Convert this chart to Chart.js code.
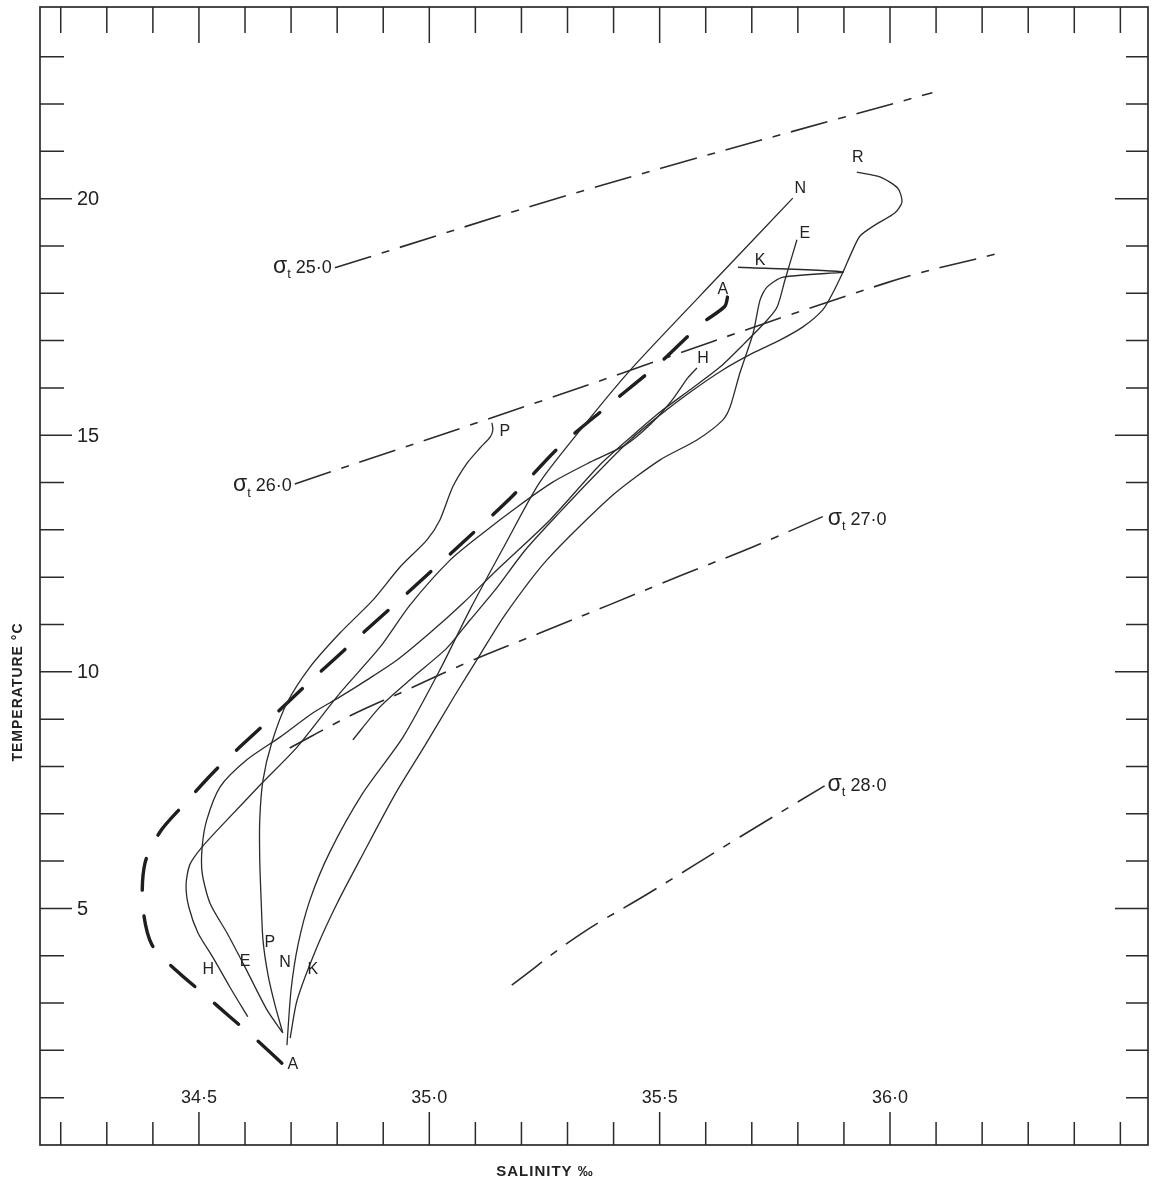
<!DOCTYPE html>
<html>
<head>
<meta charset="utf-8">
<title>Temperature - salinity diagram</title>
<script src="https://cdn.jsdelivr.net/npm/chart.js@4.4.1/dist/chart.umd.min.js"></script>
<style>
  html, body { margin: 0; padding: 0; background: #fff; }
  #wrap { width: 1152px; height: 1183px; position: relative; }
</style>
</head>
<body>
<div id="wrap"><canvas id="tsChart"></canvas></div>
<script>
// ================== DATA (salinity ‰, temperature °C) ==================
const stationA = [
  [34.680, 1.73], [34.621, 2.26], [34.567, 2.71], [34.513, 3.17], [34.454, 3.66],
  [34.398, 4.23], [34.378, 5.07], [34.383, 5.96], [34.415, 6.61], [34.465, 7.17],
  [34.541, 7.97], [34.639, 8.86], [34.736, 9.75], [34.847, 10.74], [34.953, 11.67],
  [35.062, 12.64], [35.179, 13.70], [35.283, 14.76], [35.385, 15.60], [35.496, 16.49],
  [35.591, 17.36], [35.641, 17.72], [35.648, 17.95]
];
const stationN = [
  [34.691, 2.11], [34.700, 3.28], [34.715, 4.23], [34.741, 5.18], [34.784, 6.19],
  [34.856, 7.44], [34.943, 8.62], [35.023, 10.04], [35.088, 11.31], [35.164, 12.68],
  [35.240, 14.01], [35.342, 15.28], [35.442, 16.44], [35.631, 18.39], [35.789, 20.01]
];
const stationK = [
  [34.698, 2.26], [34.713, 3.06], [34.756, 4.18], [34.800, 5.11], [34.849, 6.02],
  [34.925, 7.40], [34.991, 8.45], [35.056, 9.51], [35.110, 10.36], [35.164, 11.20],
  [35.255, 12.36], [35.399, 13.74], [35.501, 14.48], [35.581, 14.90], [35.637, 15.32],
  [35.653, 15.60], [35.674, 16.31], [35.703, 17.16], [35.718, 17.86], [35.733, 18.13],
  [35.768, 18.34], [35.898, 18.45], [35.670, 18.55]
];
const stationR = [
  [35.928, 20.56], [35.978, 20.46], [36.017, 20.22], [36.026, 19.93], [36.011, 19.70],
  [35.967, 19.44], [35.935, 19.21], [35.917, 18.87], [35.898, 18.45], [35.876, 18.01],
  [35.854, 17.65], [35.811, 17.29], [35.761, 17.01], [35.703, 16.74], [35.637, 16.38],
  [35.566, 15.91], [35.501, 15.43], [35.436, 14.90], [35.360, 14.16], [35.284, 13.38],
  [35.208, 12.57], [35.143, 11.73], [35.088, 11.09], [35.038, 10.50], [34.965, 9.89],
  [34.893, 9.26], [34.834, 8.56]
];
const stationE = [
  [34.682, 2.37], [34.648, 2.85], [34.600, 3.76], [34.561, 4.48], [34.524, 5.11],
  [34.507, 5.75], [34.507, 6.30], [34.517, 6.87], [34.546, 7.57], [34.604, 8.14],
  [34.676, 8.62], [34.747, 9.13], [34.806, 9.47], [34.865, 9.83], [34.930, 10.25],
  [35.001, 10.82], [35.073, 11.45], [35.153, 12.21], [35.262, 13.21], [35.370, 14.37],
  [35.442, 15.00], [35.501, 15.49], [35.566, 15.96], [35.631, 16.44], [35.685, 16.95],
  [35.733, 17.43], [35.755, 17.71], [35.772, 18.28], [35.798, 19.13]
];
const stationH = [
  [34.606, 2.71], [34.567, 3.34], [34.530, 3.97], [34.498, 4.48], [34.478, 5.03],
  [34.472, 5.49], [34.480, 5.92], [34.507, 6.30], [34.561, 6.87], [34.639, 7.67],
  [34.713, 8.41], [34.806, 9.55], [34.893, 10.52], [34.958, 11.41], [35.045, 12.36],
  [35.116, 12.93], [35.190, 13.48], [35.268, 14.01], [35.349, 14.43], [35.425, 14.79],
  [35.479, 15.22], [35.527, 15.74], [35.561, 16.21], [35.581, 16.42]
];
const stationP = [
  [34.682, 2.37], [34.665, 2.96], [34.650, 3.59], [34.639, 4.33], [34.635, 5.18],
  [34.632, 6.02], [34.632, 6.87], [34.639, 7.71], [34.658, 8.50], [34.691, 9.34],
  [34.741, 10.10], [34.806, 10.82], [34.878, 11.52], [34.936, 12.21], [34.995, 12.79],
  [35.023, 13.21], [35.051, 13.91], [35.082, 14.41], [35.110, 14.73], [35.132, 14.96],
  [35.138, 15.11], [35.136, 15.26]
];

// sigma-t isopleths
const sigma25 = [[34.795, 18.54], [35.342, 20.19], [36.092, 22.24]];
const sigma26 = [[34.708, 13.97], [35.233, 15.69], [35.992, 18.22], [36.233, 18.84]];
const sigma27 = [
  [34.697, 8.39], [34.828, 9.07], [34.943, 9.58], [35.081, 10.19], [35.240, 10.82],
  [35.392, 11.42], [35.550, 12.05], [35.702, 12.64], [35.854, 13.28]
];
const sigma28 = [[35.179, 3.38], [35.326, 4.44], [35.478, 5.33], [35.674, 6.51], [35.858, 7.59]];
const sigmaValues = ["25·0", "26·0", "27·0", "28·0"];

// axes
const salinityRange = [34.155, 36.56];
const tempRange = [0, 24.05];
const salinityTicks = [34.5, 35.0, 35.5, 36.0];
const salinityTickLabels = ["34·5", "35·0", "35·5", "36·0"];
const tempTicks = [5, 10, 15, 20];
const tempTickLabels = ["5", "10", "15", "20"];

// station letters written on the diagram
const stationLetters = ["N", "E", "K", "A", "H", "P", "R", "H", "E", "P", "N", "K", "A"];
const stationLetterAt = [
  [35.805, 20.22], [35.815, 19.27], [35.718, 18.70], [35.637, 18.07], [35.594, 16.63],
  [35.164, 15.07], [35.930, 20.86], [34.520, 3.70], [34.600, 3.87], [34.654, 4.27],
  [34.687, 3.85], [34.747, 3.70], [34.704, 1.69]
];

// ================== STYLE ==================
const INK = "#2b2b2b";
const FONT = "'Liberation Sans', 'DejaVu Sans', sans-serif";

const toXY = (arr) => arr.map(([s, t]) => ({ x: s, y: t }));

function thinLine(label, pts) {
  return {
    label, data: toXY(pts), showLine: true, pointRadius: 0,
    borderColor: INK, borderWidth: 1.3, tension: 0.25
  };
}
function sigmaLine(label, pts) {
  return {
    label, data: toXY(pts), showLine: true, pointRadius: 0,
    borderColor: INK, borderWidth: 1.6, tension: 0.4,
    borderDash: [38, 11, 8, 11]
  };
}

const datasets = [
  thinLine("N", stationN),
  thinLine("K", stationK),
  thinLine("R", stationR),
  thinLine("E", stationE),
  thinLine("H", stationH),
  thinLine("P", stationP),
  {
    label: "A", data: toXY(stationA), showLine: true, pointRadius: 0,
    borderColor: "#1e1e1e", borderWidth: 3.4, tension: 0.3,
    borderDash: [32, 26], borderCapStyle: "round"
  },
  sigmaLine("σt 25", sigma25),
  sigmaLine("σt 26", sigma26),
  sigmaLine("σt 27", sigma27),
  sigmaLine("σt 28", sigma28)
];

// ================== HELPERS ==================
function sigmaLabelWidth(ctx, value) {
  ctx.font = "23px " + FONT;
  let w = ctx.measureText("σ").width;
  ctx.font = "13px " + FONT;
  w += ctx.measureText("t").width;
  ctx.font = "18px " + FONT;
  w += ctx.measureText(" " + value).width;
  return w;
}

function drawSigmaLabel(ctx, value, x, y) {
  ctx.textBaseline = "middle";
  ctx.textAlign = "left";
  ctx.font = "23px " + FONT;
  ctx.fillText("σ", x, y - 1);
  x += ctx.measureText("σ").width;
  ctx.font = "13px " + FONT;
  ctx.fillText("t", x, y + 7);
  x += ctx.measureText("t").width;
  ctx.font = "18px " + FONT;
  ctx.fillText(" " + value, x, y);
}

// ================== FRAME, TICKS, LABELS ==================
const decorations = {
  id: "decorations",
  beforeDatasetsDraw(chart) {
    const { ctx, chartArea: a, scales: { x, y } } = chart;
    ctx.save();
    ctx.strokeStyle = INK;
    ctx.lineWidth = 1.7;
    ctx.strokeRect(a.left, a.top, a.right - a.left, a.bottom - a.top);

    ctx.lineWidth = 1.5;
    ctx.beginPath();
    // salinity ticks every 0.1 on bottom and top edges
    for (let k = 342; k <= 365; k++) {
      const v = k / 10;
      const px = x.getPixelForValue(v);
      const major = salinityTicks.some((t) => Math.round(t * 10) === k);
      ctx.moveTo(px, a.bottom);
      ctx.lineTo(px, a.bottom - (major ? 33 : 23));
      ctx.moveTo(px, a.top);
      ctx.lineTo(px, a.top + (major ? 36 : 26));
    }
    // temperature ticks every degree on left and right edges
    for (let t = 1; t <= 23; t++) {
      const py = y.getPixelForValue(t);
      const major = tempTicks.includes(t);
      ctx.moveTo(a.left, py);
      ctx.lineTo(a.left + (major ? 32 : 24), py);
      ctx.moveTo(a.right, py);
      ctx.lineTo(a.right - (major ? 33 : 22), py);
    }
    ctx.stroke();

    ctx.fillStyle = "#222";
    ctx.font = "20px " + FONT;
    ctx.textAlign = "left";
    ctx.textBaseline = "middle";
    tempTicks.forEach((t, i) => {
      ctx.fillText(tempTickLabels[i], a.left + 37, y.getPixelForValue(t) + 1);
    });
    ctx.font = "18px " + FONT;
    ctx.textAlign = "center";
    salinityTicks.forEach((s, i) => {
      ctx.fillText(salinityTickLabels[i], x.getPixelForValue(s), a.bottom - 47);
    });

    // axis titles
    ctx.font = "bold 15px " + FONT;
    ctx.letterSpacing = "1px";
    ctx.textAlign = "center";
    ctx.fillText("SALINITY ‰", 545, a.bottom + 27);
    ctx.save();
    ctx.font = "bold 14px " + FONT;
    ctx.translate(18, 692);
    ctx.rotate(-Math.PI / 2);
    ctx.fillText("TEMPERATURE °C", 0, 0);
    ctx.restore();
    ctx.restore();
  },
  afterDatasetsDraw(chart) {
    const { ctx, scales: { x, y } } = chart;
    ctx.save();
    ctx.fillStyle = "#222";

    // sigma-t labels at the ends of the isopleths
    const first25 = sigma25[0], first26 = sigma26[0];
    const last27 = sigma27[sigma27.length - 1], last28 = sigma28[sigma28.length - 1];
    let w = sigmaLabelWidth(ctx, sigmaValues[0]);
    drawSigmaLabel(ctx, sigmaValues[0], x.getPixelForValue(first25[0]) - w - 3, y.getPixelForValue(first25[1]));
    w = sigmaLabelWidth(ctx, sigmaValues[1]);
    drawSigmaLabel(ctx, sigmaValues[1], x.getPixelForValue(first26[0]) - w - 3, y.getPixelForValue(first26[1]) + 2);
    drawSigmaLabel(ctx, sigmaValues[2], x.getPixelForValue(last27[0]) + 5, y.getPixelForValue(last27[1]) + 3);
    drawSigmaLabel(ctx, sigmaValues[3], x.getPixelForValue(last28[0]) + 3, y.getPixelForValue(last28[1]));

    // station letters
    ctx.font = "16px " + FONT;
    ctx.textAlign = "center";
    ctx.textBaseline = "middle";
    stationLetters.forEach((txt, i) => {
      const [s, t] = stationLetterAt[i];
      ctx.fillText(txt, x.getPixelForValue(s), y.getPixelForValue(t));
    });
    ctx.restore();
  }
};

// ================== CHART ==================
new Chart(document.getElementById("tsChart"), {
  type: "scatter",
  data: { datasets },
  options: {
    responsive: true,
    maintainAspectRatio: false,
    animation: false,
    layout: { padding: { left: 40, right: 4, top: 7, bottom: 38 } },
    plugins: { legend: { display: false }, tooltip: { enabled: false } },
    scales: {
      x: { type: "linear", min: salinityRange[0], max: salinityRange[1], display: false },
      y: { type: "linear", min: tempRange[0], max: tempRange[1], display: false }
    }
  },
  plugins: [decorations]
});
</script>
</body>
</html>
